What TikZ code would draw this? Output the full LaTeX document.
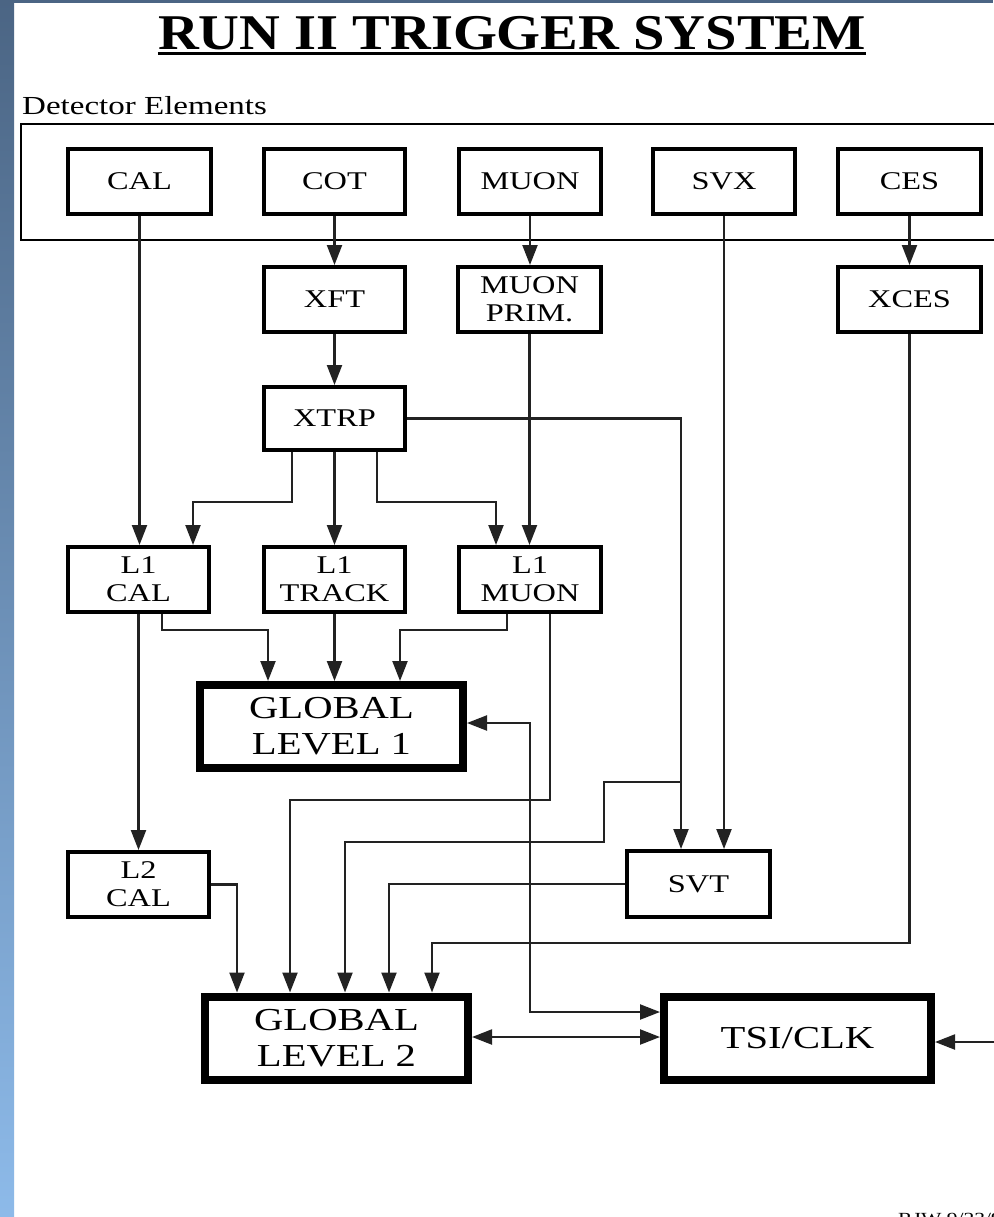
\documentclass[tikz,border=0pt]{standalone}
\usepackage{fontspec}
\setmainfont{Liberation Serif}
\newfontfamily\bxfont[FakeStretch=1.27]{Liberation Serif}
\newfontfamily\ttlfont[FakeStretch=1.13]{Liberation Serif}
\usetikzlibrary{arrows.meta}
\definecolor{stripdark}{HTML}{4B6584}
\definecolor{striplight}{HTML}{8DBAE9}
\definecolor{linegray}{HTML}{222222}
\tikzset{
  sbox/.style={draw, line width=4pt, minimum width=142pt, minimum height=65pt, inner sep=0pt, align=center, font=\bxfont\fontsize{25.5}{28}\selectfont},
  bbox/.style={draw, line width=8pt, minimum width=263pt, minimum height=83pt, inner sep=0pt, align=center, font=\bxfont\fontsize{32}{36}\selectfont},
  conn/.style={line width=2.2pt, draw=linegray},
  arr/.style={conn, -{Triangle[length=20pt,width=15pt]}},
  darr/.style={conn, {Triangle[length=20pt,width=15pt]}-{Triangle[length=20pt,width=15pt]}},
}
\begin{document}
\begin{tikzpicture}[x=1pt,y=-1pt]
\useasboundingbox (0,0) rectangle (993,1217);
\fill[white] (0,0) rectangle (993,1217);
% side strip
\shade[top color=stripdark, bottom color=striplight] (0,0) rectangle (14,1217);
\fill[stripdark] (0,0) rectangle (993,3);

% title
\node[anchor=base, inner sep=0pt, font=\ttlfont\bfseries\fontsize{50}{56}\selectfont] (title) at (512,50) {RUN II TRIGGER SYSTEM};
\draw[line width=3pt] ([yshift=-4pt]title.base west) -- ([yshift=-4pt]title.base east);

% detector elements frame
\node[anchor=base west, inner sep=0pt, font=\bxfont\fontsize{26}{30}\selectfont] (detlbl) at (22,115) {Detector Elements};
\draw[line width=2pt] (1010,124) -- (21,124) -- (21,240) -- (1010,240);

% detector boxes
\node[sbox, minimum width=143pt] (cal)  at (139.5,181.5) {CAL};
\node[sbox, minimum width=141pt] (cot)  at (334.5,181.5) {COT};
\node[sbox] (muon) at (530,181.5) {MUON};
\node[sbox] (svx)  at (724,181.5) {SVX};
\node[sbox, minimum width=143pt] (ces)  at (909.5,181.5) {CES};

\node[sbox, minimum width=141pt] (xft)   at (334.5,299.5) {XFT};
\node[sbox, minimum width=143pt] (mprim) at (529.5,299.5) {MUON\\PRIM.};
\node[sbox, minimum width=143pt] (xces)  at (909.5,299.5) {XCES};

\node[sbox, minimum width=141pt, minimum height=63pt] (xtrp) at (334.5,418.5) {XTRP};

\node[sbox, minimum width=141pt] (l1cal) at (138.5,579.5) {L1\\CAL};
\node[sbox, minimum width=141pt] (l1trk) at (334.5,579.5) {L1\\TRACK};
\node[sbox] (l1mu)  at (530,579.5) {L1\\MUON};

\node[bbox] (gl1) at (331.5,726.5) {GLOBAL\\LEVEL 1};

\node[sbox, minimum width=141pt] (l2cal) at (138.5,884.5) {L2\\CAL};
\node[sbox, minimum width=143pt, minimum height=66pt] (svt) at (698.5,884) {SVT};

\node[bbox] (gl2) at (336.5,1038) {GLOBAL\\LEVEL 2};
\node[bbox, minimum width=267pt] (tsi) at (797.5,1038) {TSI/CLK};

% connectors
\draw[arr] (cal.south) -- (cal.south |- l1cal.north);
\draw[arr] (cot.south) -- (xft.north);
\draw[arr] (muon.south) -- (muon.south |- mprim.north);
\draw[arr] (ces.south) -- (xces.north);
\draw[arr] (xft.south) -- (xtrp.north);

\draw[arr] ([xshift=-42.5pt]xtrp.south) -- ++(0,50) -| ([xshift=54.5pt]l1cal.north);
\draw[arr] (xtrp.south) -- (l1trk.north);
\draw[arr] ([xshift=42.5pt]xtrp.south) -- ++(0,50) -| ([xshift=-34pt]l1mu.north);
\draw[arr] (mprim.south) -- (mprim.south |- l1mu.north);

\draw[arr] (xtrp.east) -| ([xshift=-17.5pt]svt.north);
\draw[arr] (svx.south) -- (svx.south |- svt.north);
\coordinate (j1) at (681,782);
\draw[arr] (j1) -- (604,782) -- (604,842) -| ([xshift=8.5pt]gl2.north);

\draw[arr] (l1cal.south) -- (l2cal.north);
\draw[arr] ([xshift=23.5pt]l1cal.south) -- ++(0,16) -| ([xshift=-63.5pt]gl1.north);
\draw[arr] (l1trk.south) -- (l1trk.south |- gl1.north);
\draw[arr] ([xshift=-23pt]l1mu.south) -- ++(0,16) -| ([xshift=68.5pt]gl1.north);
\draw[arr] ([xshift=20pt]l1mu.south) -- ++(0,186) -| ([xshift=-46.5pt]gl2.north);

\draw[arr] (l2cal.east) -| ([xshift=-99.5pt]gl2.north);
\draw[arr] (svt.west) -| ([xshift=52.5pt]gl2.north);
\draw[arr] (xces.south) -- ++(0,609) -| ([xshift=95.5pt]gl2.north);

\draw[darr] ([yshift=3.5pt]gl1.east) -| (530,1012) -- ([yshift=26pt]tsi.west);
\draw[darr] ([yshift=1pt]gl2.east) -- ([yshift=1pt]tsi.west);
\coordinate (rin) at (1005,1042);
\draw[arr] (rin) -- ([yshift=-4pt]tsi.east);

% footer
\node[anchor=base west, inner sep=0pt, font=\bxfont\fontsize{17}{20}\selectfont] (foot) at (898,1224) {RJW 9/23/98};
\end{tikzpicture}
\end{document}
